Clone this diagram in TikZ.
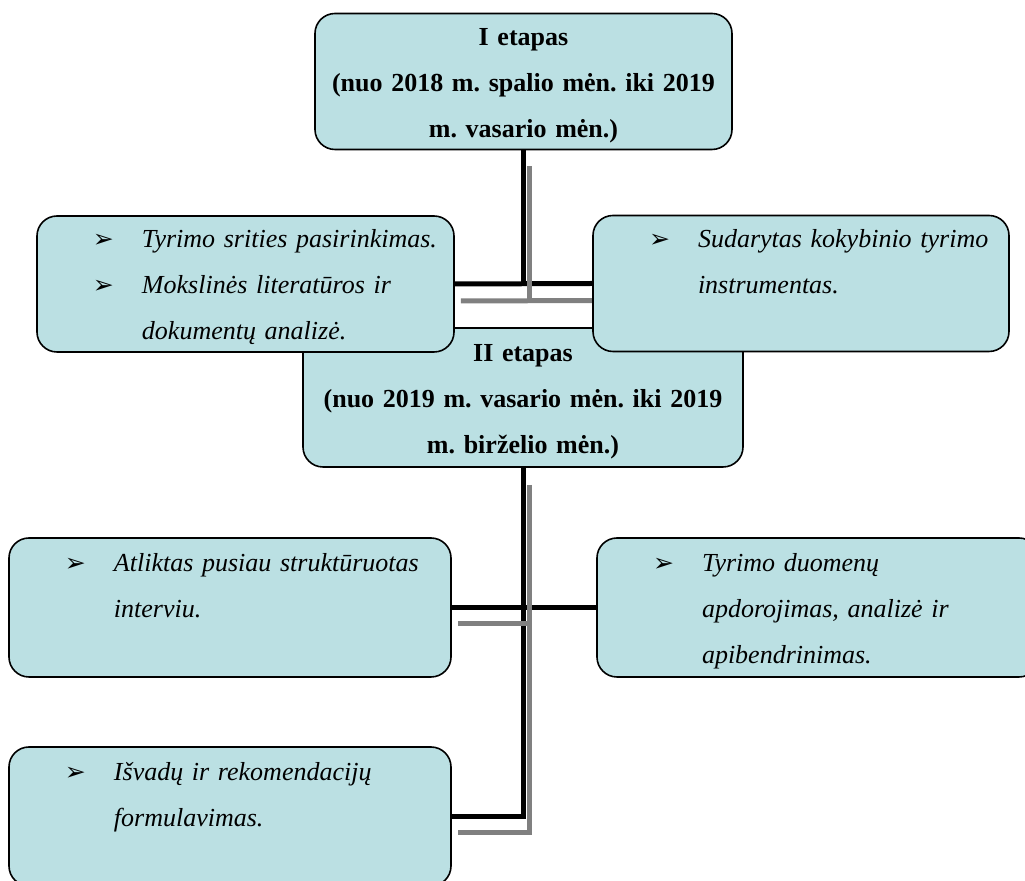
\documentclass[tikz,border=0pt]{standalone}
\usepackage{fontspec}
\setmainfont{Liberation Serif}
\newfontfamily\arrowfont{DejaVu Sans}
\usetikzlibrary{backgrounds}
\definecolor{boxblue}{RGB}{187,224,227}
\frenchspacing
\newcommand{\firstline}{\rule{0pt}{16pt}}
\newcommand{\lastline}{\rule[-6pt]{0pt}{6pt}}
\newcommand{\arrowitem}{\hspace*{28pt}\makebox[24.5pt][l]{\arrowfont\fontsize{12.5}{12}\selectfont ➢}}
\newcommand{\itemcont}{\hspace*{52.5pt}}
\tikzset{
  stage box/.style={
    fill=boxblue,
    draw=black,
    line width=0.8pt,
    rounded corners=10pt,
    text width={#1},
    minimum height={68pt},
    inner sep=0pt,
    align=center,
    font=\bfseries\fontsize{13}{23}\selectfont,
  },
  task box/.style={
    stage box={#1},
    align=left,
    font=\itshape\fontsize{13}{23}\selectfont,
  },
  link/.style={
    line width=2.5pt,
    black,
  },
  link shadow/.style={
    line width=2.5pt,
    gray,
  }
}

\begin{document}
\begin{tikzpicture}[x=0.5pt, y=-0.5pt]
        \useasboundingbox (0,0) rectangle (1025,881);
        \clip (0,0) rectangle (1025,881);

        \node [stage box=208.5pt] (e1) at (523.5,81.5)
          {\firstline I etapas\\(nuo 2018 m. spalio mėn. iki 2019\\m. vasario mėn.)\lastline};
        \node [stage box=220pt, minimum height=69.5pt] (e2) at (523,397.5)
          {\firstline II etapas\\(nuo 2019 m. vasario mėn. iki 2019\\m. birželio mėn.)\lastline};

        \node [task box=208.5pt] (e1a) at (245.5,284)
          {\arrowitem\firstline Tyrimo srities pasirinkimas.\\\arrowitem Mokslinės literatūros ir\\\itemcont dokumentų analizė.\lastline};
        \node [task box=208pt] (e1b) at (801,283.5)
          {\arrowitem\firstline Sudarytas kokybinio tyrimo\\\itemcont instrumentas.\\\lastline};

        \node [task box=221pt, minimum height=69.5pt] (e2a) at (230,607.5)
          {\arrowitem\firstline Atliktas pusiau struktūruotas\\\itemcont interviu.\\\lastline};
        \node [task box=221pt, minimum height=69.5pt] (e2b) at (818,607.5)
          {\arrowitem\firstline Tyrimo duomenų\\\itemcont apdorojimas, analizė ir\\\itemcont apibendrinimas.\lastline};
        \node [task box=221pt, minimum height=69.5pt] (e2c) at (230,816.5)
          {\arrowitem\firstline Išvadų ir rekomendacijų\\\itemcont formulavimas.\\\lastline};

        \coordinate (j1) at (e1.south |- e1a.east);
        \coordinate (j2) at (e2.south |- e2a.east);
        \coordinate (j3) at (e2.south |- e2c.east);

        \begin{pgfonlayer}{background}
          \draw [link] (e1.south) -- (j1);
          \draw [link] (e1a.east) -- (e1b.west);
          \draw [link] (e2.south) -- (j3) -- (e2c.east);
          \draw [link] (e2a.east) -- (e2b.west);

          \draw [link shadow] ([shift={(6,16)}]e1.south) -- ([shift={(6,17)}]j1);
          \draw [link shadow] ([shift={(6,17)}]e1a.east) -- ([shift={(6,17)}]e1b.west);
          \draw [link shadow] ([shift={(6,17)}]e2.south) -- ([shift={(6,16)}]j3) -- ([shift={(6,16)}]e2c.east);
          \draw [link shadow] ([shift={(6,16)}]e2a.east) -- ([shift={(6,16)}]j2);
        \end{pgfonlayer}
    \end{tikzpicture}
\end{document}
